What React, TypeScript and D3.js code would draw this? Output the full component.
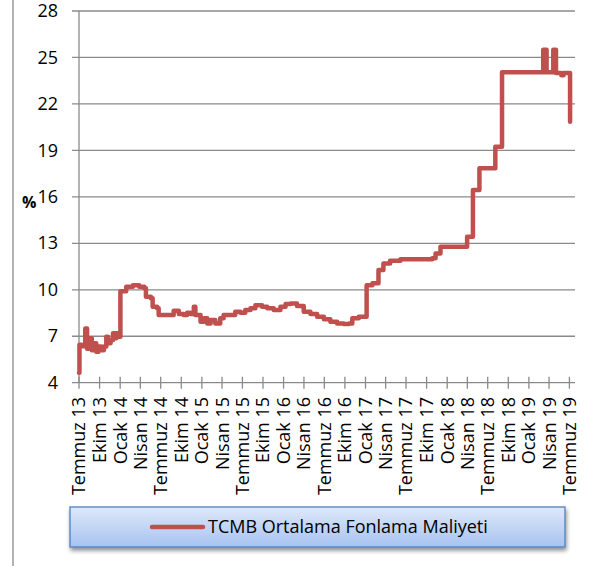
import React from "react";
import * as d3 from "d3";

const seriesName = "TCMB Ortalama Fonlama Maliyeti";
const yTicks = [4, 7, 10, 13, 16, 19, 22, 25, 28];
const xTickLabels = [
  "Temmuz 13", "Ekim 13", "Ocak 14", "Nisan 14", "Temmuz 14", "Ekim 14", "Ocak 15", "Nisan 15",
  "Temmuz 15", "Ekim 15", "Ocak 16", "Nisan 16", "Temmuz 16", "Ekim 16", "Ocak 17", "Nisan 17",
  "Temmuz 17", "Ekim 17", "Ocak 18", "Nisan 18", "Temmuz 18", "Ekim 18", "Ocak 19", "Nisan 19",
  "Temmuz 19",
];
const dates = [
  "2013-07-01", "2013-07-03", "2013-07-14", "2013-07-29", "2013-08-06", "2013-08-17", "2013-08-27",
  "2013-09-05", "2013-09-16", "2013-09-26", "2013-10-08", "2013-10-20", "2013-10-31", "2013-11-07",
  "2013-11-19", "2013-11-30", "2013-12-07", "2013-12-15", "2013-12-25", "2014-01-02", "2014-01-28",
  "2014-02-27", "2014-03-27", "2014-04-19", "2014-04-26", "2014-05-18", "2014-05-26", "2014-06-15",
  "2014-06-22", "2014-08-28", "2014-09-20", "2014-10-12", "2014-10-27", "2014-11-11", "2014-11-26",
  "2014-12-03", "2014-12-26", "2015-01-10", "2015-01-25", "2015-02-09", "2015-03-02", "2015-03-24",
  "2015-04-08", "2015-05-30", "2015-06-22", "2015-07-14", "2015-08-06", "2015-08-28", "2015-09-27",
  "2015-10-20", "2015-11-18", "2015-12-18", "2016-01-10", "2016-02-01", "2016-03-01", "2016-03-31",
  "2016-04-30", "2016-05-30", "2016-06-29", "2016-07-28", "2016-08-27", "2016-09-26", "2016-10-19",
  "2016-11-03", "2016-12-02", "2017-01-06", "2017-02-01", "2017-02-28", "2017-03-22", "2017-04-21",
  "2017-06-06", "2017-10-26", "2017-11-10", "2017-12-02", "2018-03-31", "2018-04-26", "2018-05-25",
  "2018-08-04", "2018-09-03", "2019-03-06", "2019-03-21", "2019-04-20", "2019-05-02", "2019-05-26",
  "2019-06-05", "2019-07-04",
];
const values = [
  4.65, 6.45, 6.35, 7.5, 6.2, 6.87, 6.1,
  6.54, 6.0, 6.33, 6.1, 6.33, 6.97, 6.54,
  6.76, 7.19, 6.87, 7.19, 6.97, 9.9, 10.2,
  10.3, 10.2, 10.1, 9.55, 9.45, 8.9, 8.8,
  8.37, 8.65, 8.43, 8.37, 8.52, 8.43, 8.9,
  8.37, 7.94, 8.16, 7.83, 8.05, 7.83, 8.16,
  8.37, 8.58, 8.52, 8.69, 8.8, 9.0, 8.9,
  8.8, 8.69, 8.9, 9.08, 9.12, 8.95, 8.58,
  8.43, 8.26, 8.09, 7.94, 7.83, 7.79, 7.83,
  8.16, 8.26, 10.3, 10.42, 11.27, 11.7, 11.87,
  11.97, 12.03, 12.35, 12.78, 13.43, 16.44, 17.84,
  19.24, 24.04, 25.5, 24.04, 25.5, 24.0, 23.85,
  24.0, 20.85,
];

const parse = d3.timeParse("%Y-%m-%d");

export default function App() {
  const W = 601, H = 566;
  const x0 = 79, x1 = 575, yTop = 11, yBot = 382.7;
  const xStart = parse("2013-07-01")!;
  const xEnd = parse("2019-07-26")!;
  const x = d3.scaleTime().domain([xStart, xEnd]).range([x0, x1]);
  const y = d3.scaleLinear().domain([4, 28]).range([yBot, yTop]);
  const tickDates = d3.timeMonth.every(3)!.range(xStart, d3.timeDay.offset(xEnd, 1));
  const data = dates.map((d, i) => ({ d: parse(d)!, v: values[i] }));
  const line = d3.line<{ d: Date; v: number }>()
    .x((p) => x(p.d))
    .y((p) => y(p.v))
    .curve(d3.curveStepAfter);
  const grid = "#8a8a8a";
  const font = "'Open Sans', sans-serif";
  return (
    <svg width={W} height={H} style={{ position: "absolute", left: 0, top: 0, background: "#fff" }}
      fontFamily={font}>
      <defs>
        <linearGradient id="lg" x1="0" y1="0" x2="0" y2="1">
          <stop offset="0" stopColor="#dfe8f9" />
          <stop offset="1" stopColor="#a6c3f1" />
        </linearGradient>
        <filter id="sh" x="-5%" y="-20%" width="110%" height="160%">
          <feGaussianBlur in="SourceAlpha" stdDeviation="2" />
          <feOffset dx="1" dy="3" result="b" />
          <feComponentTransfer><feFuncA type="linear" slope="0.45" /></feComponentTransfer>
          <feMerge><feMergeNode /><feMergeNode in="SourceGraphic" /></feMerge>
        </filter>
      </defs>
      <line x1={13} x2={13} y1={0} y2={H} stroke={grid} strokeWidth={1.3} />
      {yTicks.map((t) => (
        <g key={t}>
          <line x1={x0 - 7} x2={x1} y1={y(t)} y2={y(t)} stroke={grid} strokeWidth={1.3} />
          <text x={58} y={y(t)} dy="0.34em" textAnchor="end" fontSize={18} fill="#000">{t}</text>
        </g>
      ))}
      <text x={22} y={208} fontSize={16} fontWeight="bold" fill="#000">%</text>
      <line x1={x0} x2={x0} y1={yTop} y2={yBot} stroke={grid} strokeWidth={1.3} />
      {tickDates.map((d, i) => (
        <g key={i}>
          <line x1={x(d)} x2={x(d)} y1={yBot - 6} y2={yBot + 6} stroke={grid} strokeWidth={1.3} />
          <text transform={`translate(${x(d)},${397}) rotate(-90)`} dy="0.36em" textAnchor="end"
            fontSize={18} fill="#000">{xTickLabels[i]}</text>
        </g>
      ))}
      <path d={line(data) || ""} fill="none" stroke="#c0504d" strokeWidth={4.5} strokeLinejoin="round"
        strokeLinecap="round" />
      <g filter="url(#sh)">
        <rect x={70} y={507} width={495} height={40} fill="url(#lg)" stroke="#4f81bd" strokeWidth={1.3} />
      </g>
      <line x1={152} x2={203} y1={527} y2={527} stroke="#c0504d" strokeWidth={4.5} strokeLinecap="round" />
      <text x={208} y={527} dy="0.36em" fontSize={18} fill="#000">{seriesName}</text>
    </svg>
  );
}
